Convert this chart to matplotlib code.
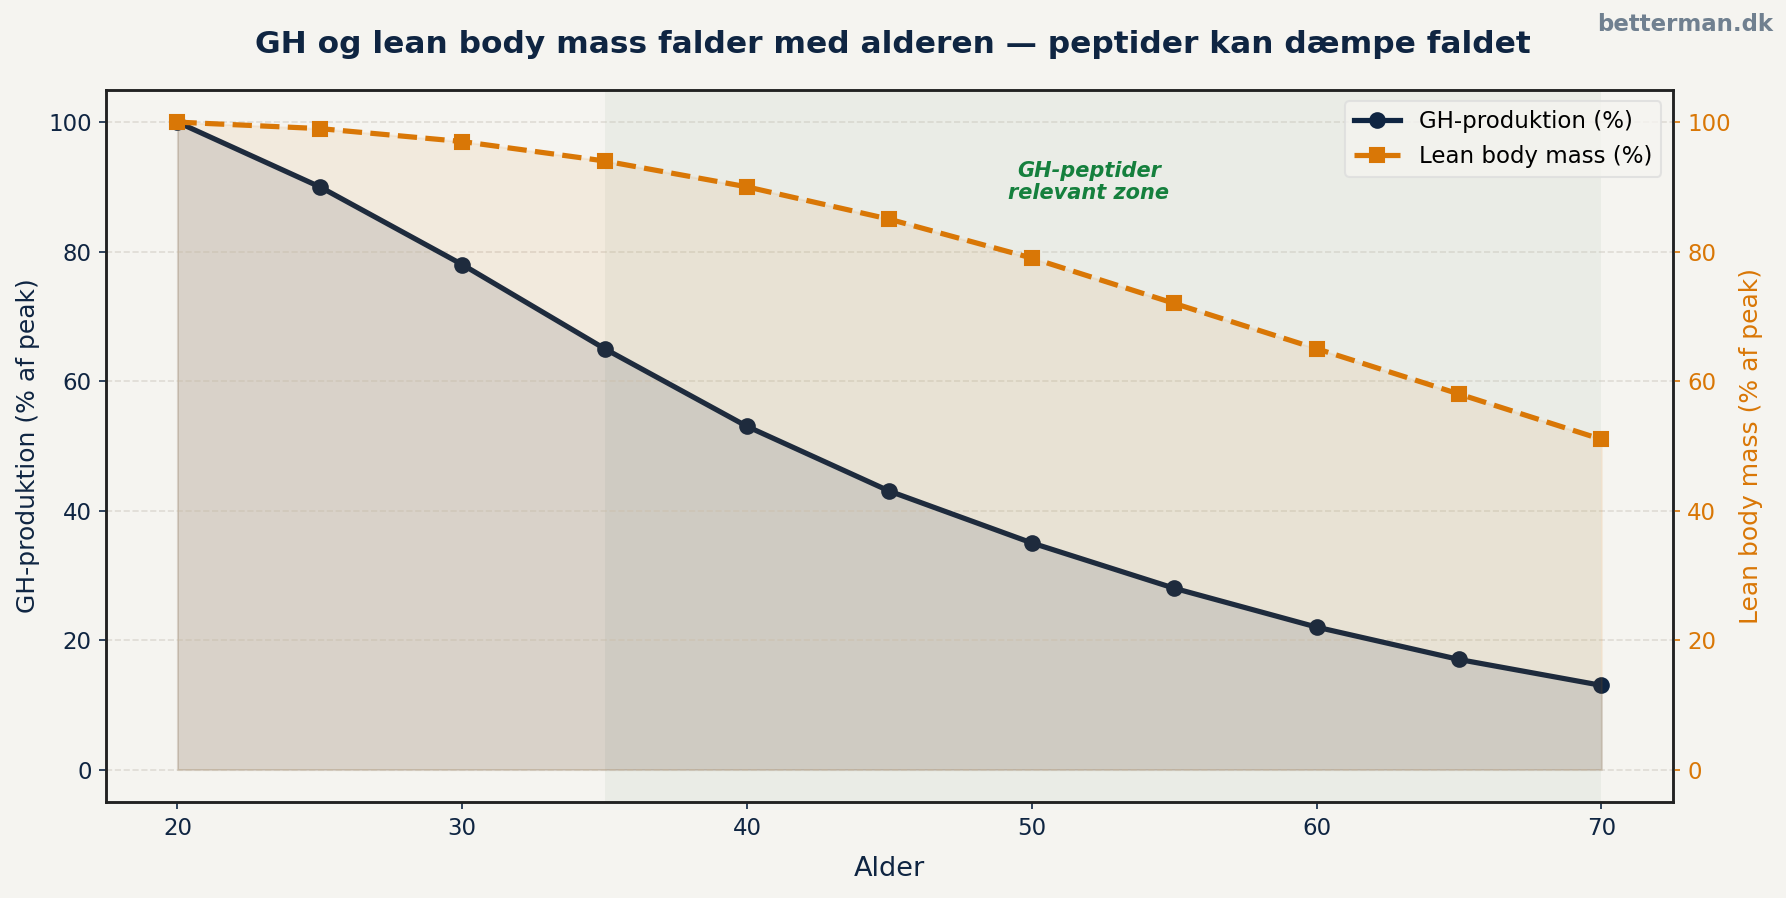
import matplotlib
matplotlib.use('Agg')
import matplotlib.pyplot as plt

# data
alder = [20, 25, 30, 35, 40, 45, 50, 55, 60, 65, 70]
gh = [100, 90, 78, 65, 53, 43, 35, 28, 22, 17, 13]
lbm = [100, 99, 97, 94, 90, 85, 79, 72, 65, 58, 51]

NAVY = '#0f2542'
ORANGE = '#d97706'
GREEN = '#15803d'
BG = '#f5f4f0'

plt.rcParams.update({'font.family': 'DejaVu Sans', 'font.size': 11})

fig, ax = plt.subplots(figsize=(11.907, 5.987), dpi=150)
fig.patch.set_facecolor(BG)
ax.set_facecolor(BG)
fig.subplots_adjust(left=0.0595, right=0.9365, top=0.9, bottom=0.107)

ax.axvspan(35, 70, color='#6b8f71', alpha=0.08, lw=0)
ax.fill_between(alder, gh, 0, color=NAVY, alpha=0.12)
ax.plot(alder, gh, color=NAVY, lw=2.5, marker='o', ms=7, label='GH-produktion (%)')
ax.set_ylim(-5, 105)
ax.set_xlim(17.5, 72.5)
ax.set_xlabel('Alder', fontsize=13, color=NAVY, labelpad=8)
ax.set_ylabel('GH-produktion (% af peak)', fontsize=12, color=NAVY)
ax.tick_params(axis='both', colors=NAVY, labelsize=11)
ax.grid(axis='y', ls='--', color='#c8c4ba', alpha=0.5)
ax.set_xticks([20, 30, 40, 50, 60, 70])

ax2 = ax.twinx()
ax2.fill_between(alder, lbm, 0, color=ORANGE, alpha=0.08)
ax2.plot(alder, lbm, color=ORANGE, lw=2.5, ls='--', marker='s', ms=7, label='Lean body mass (%)')
ax2.set_ylim(-5, 105)
ax2.set_ylabel('Lean body mass (% af peak)', fontsize=12, color=ORANGE)
ax2.tick_params(axis='y', colors=ORANGE, labelsize=11)

for a in (ax, ax2):
    for s in a.spines.values():
        s.set_color('#222222')
        s.set_linewidth(1.2)

ax.text(52, 90.8, 'GH-peptider\nrelevant zone', ha='center', va='center', color=GREEN,
        fontsize=10, fontweight='bold', fontstyle='italic', linespacing=1.1)

h1, l1 = ax.get_legend_handles_labels()
h2, l2 = ax2.get_legend_handles_labels()
ax2.legend(h1 + h2, l1 + l2, loc='upper right', fontsize=11, framealpha=0.8,
           facecolor=BG, edgecolor='#dddddd')

fig.suptitle('GH og lean body mass falder med alderen — peptider kan dæmpe faldet',
             fontsize=15, fontweight='bold', color=NAVY, y=0.967)
fig.text(0.993, 0.985, 'betterman.dk', ha='right', va='top', fontsize=11,
         fontweight='bold', color='#708090')

fig.savefig('out.png', dpi=150, facecolor=BG)
